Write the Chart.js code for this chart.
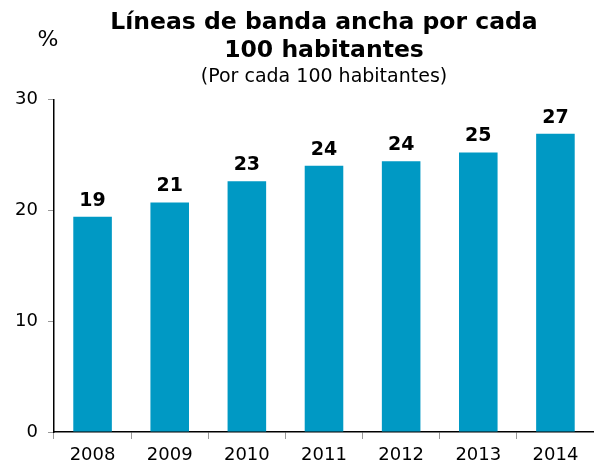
<!DOCTYPE html>
<html>
<head>
<meta charset="utf-8">
<script src="https://cdn.jsdelivr.net/npm/chart.js@4/dist/chart.umd.min.js"></script>
<style>
  body { margin: 0; background: #fff; }
  #wrap { width: 594px; height: 470px; }
</style>
</head>
<body>
<div id="wrap"><canvas id="myChart" width="594" height="470"></canvas></div>
<script>
const years = ['2008', '2009', '2010', '2011', '2012', '2013', '2014'];
const lines = [19.4, 20.7, 22.6, 24.0, 24.4, 25.2, 26.9];
const yTicks = [0, 10, 20, 30];

const font = 'DejaVu Sans, Verdana, sans-serif';
Chart.defaults.font.family = font;
Chart.defaults.color = '#000';

// numbers over the bars + the % sign
const extras = {
  id: 'extras',
  afterDatasetsDraw(chart) {
    const ctx = chart.ctx;
    ctx.save();
    ctx.fillStyle = '#000';
    ctx.textAlign = 'center';
    ctx.textBaseline = 'alphabetic';
    ctx.font = 'bold 19px ' + font;
    chart.getDatasetMeta(0).data.forEach((bar, i) => {
      ctx.fillText(Math.round(lines[i]), bar.x, bar.y - 11);
    });
    ctx.font = '22px ' + font;
    ctx.textBaseline = 'middle';
    ctx.fillText('%', 48, 40);
    ctx.restore();
  }
};

new Chart(document.getElementById('myChart'), {
  type: 'bar',
  data: {
    labels: years,
    datasets: [{
      data: lines,
      backgroundColor: '#0099c4',
      borderWidth: 0,
      categoryPercentage: 1,
      barPercentage: 0.5
    }]
  },
  options: {
    responsive: false,
    animation: false,
    layout: { padding: { left: 0, right: 0, top: 0, bottom: 0 } },
    plugins: {
      legend: { display: false },
      tooltip: { enabled: false },
      title: {
        display: true,
        fullSize: false,
        text: ['Líneas de banda ancha por cada', '100 habitantes'],
        font: { size: 23.5, weight: 'bold', lineHeight: 1.18 },
        color: '#000',
        padding: { top: 9, bottom: 0 }
      },
      subtitle: {
        display: true,
        fullSize: false,
        text: '(Por cada 100 habitantes)',
        font: { size: 19, lineHeight: 1.2 },
        color: '#000',
        padding: { top: 1, bottom: 11 }
      }
    },
    scales: {
      x: {
        grid: { display: true, drawOnChartArea: false, tickLength: 7, color: '#999' },
        border: { display: true, color: '#000', width: 1.5 },
        ticks: { font: { size: 18 }, color: '#000', padding: 6 },
        afterFit(scale) { scale.height = 38; }
      },
      y: {
        min: 0,
        max: 30,
        afterBuildTicks(scale) { scale.ticks = yTicks.map(v => ({ value: v })); },
        grid: { display: true, drawOnChartArea: false, tickLength: 6, color: '#999' },
        border: { display: true, color: '#000', width: 1.5 },
        ticks: { font: { size: 18 }, color: '#000', padding: 10 },
        afterFit(scale) { scale.width = 54; }
      }
    }
  },
  plugins: [extras]
});
</script>
</body>
</html>
